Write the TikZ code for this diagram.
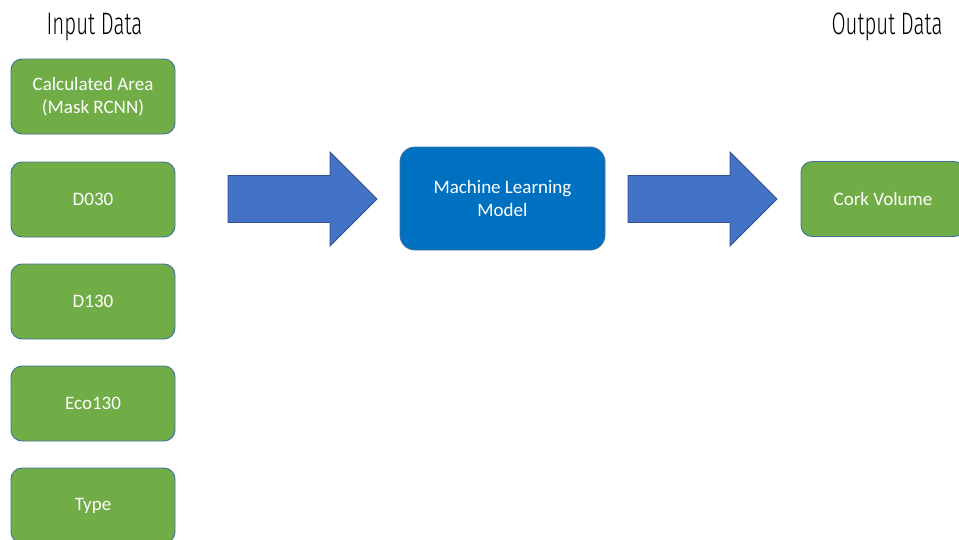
\documentclass[tikz,border=0pt]{standalone}
\usepackage{fontspec}
\usetikzlibrary{calc}
\setmainfont{Carlito}
\newfontfamily\titlefont{Fira Sans Light}
\definecolor{boxgreen}{HTML}{70AD47}
\definecolor{boxedge}{HTML}{41719C}
\definecolor{arrowblue}{HTML}{4472C4}
\definecolor{arrowedge}{HTML}{2F528F}
\definecolor{modelblue}{HTML}{0070C0}
\begin{document}
\begin{tikzpicture}[x=1pt,y=-1pt,
  databox/.style={draw=boxedge, line width=0.9pt, fill=boxgreen, rounded corners=11pt,
    minimum width=164pt, minimum height=75pt, inner sep=0pt, text=white,
    align=center, font=\fontsize{19}{23}\selectfont},
  modelbox/.style={draw=boxedge, line width=0.9pt, fill=modelblue, rounded corners=15pt,
    minimum width=205pt, minimum height=103pt, inner sep=0pt, text=white,
    align=center, font=\fontsize{19}{23}\selectfont},
  heading/.style={inner sep=0pt, font=\titlefont\fontsize{31}{31}\selectfont},
  blockarrow/.style={draw=arrowedge, line width=0.9pt, fill=arrowblue, line join=miter}
]
\useasboundingbox (0,0) rectangle (959,539);

% headings
\node[heading] (inhead) at (94.5,27) {\scalebox{0.66}[1]{Input Data}};
\node[heading] (outhead) at (887,27) {\scalebox{0.66}[1]{Output Data}};

% input features
\node[databox] (area) at (93,96.5) {Calculated Area\\(Mask RCNN)};
\node[databox] (d030) at (93,199.5) {D030};
\node[databox] (d130) at (93,301.5) {D130};
\node[databox] (eco)  at (93,403.5) {Eco130};
\node[databox] (type) at (93,505.5) {Type};

% model
\node[modelbox] (model) at (502.5,198.5) {Machine Learning\\Model};

% output
\node[databox] (cork) at (883,199) {Cork Volume};

% block arrows
\coordinate (a1) at (228,199);
\coordinate (a2) at (628,199);
\foreach \s in {a1,a2}{
  \draw[blockarrow] ($(\s)+(0,-23.5)$) -- ++(102,0) -- ++(0,-23.5) -- ++(47,47)
    -- ++(-47,47) -- ++(0,-23.5) -- ++(-102,0) -- cycle;
}
\end{tikzpicture}
\end{document}
